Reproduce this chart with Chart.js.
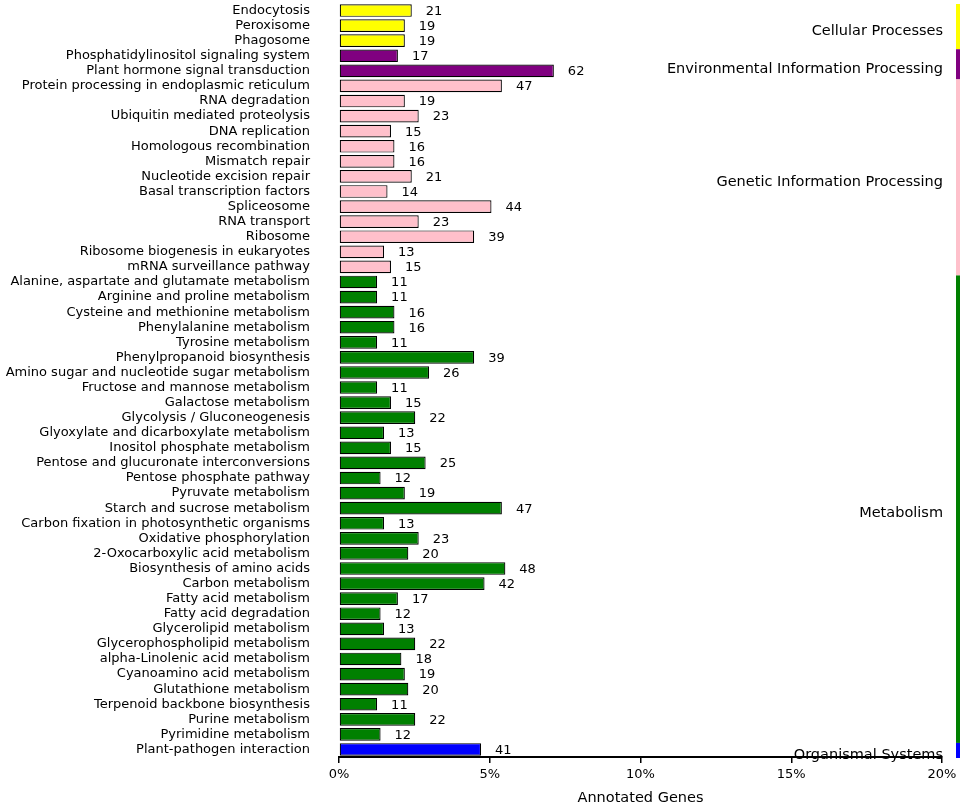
<!DOCTYPE html>
<html>
<head>
<meta charset="utf-8">
<script src="https://cdn.jsdelivr.net/npm/chart.js@4/dist/chart.umd.min.js"></script>
<style>
    html, body { margin: 0; padding: 0; background: #fff; }
    #wrap { width: 964px; height: 807px; position: relative; }
</style>
</head>
<body>
<div id="wrap"><canvas id="keggChart"></canvas></div>
<script>
// KEGG pathway categories, top to bottom
const categories = [
    'Endocytosis', 'Peroxisome', 'Phagosome',
    'Phosphatidylinositol signaling system', 'Plant hormone signal transduction',
    'Protein processing in endoplasmic reticulum', 'RNA degradation', 'Ubiquitin mediated proteolysis',
    'DNA replication', 'Homologous recombination', 'Mismatch repair', 'Nucleotide excision repair',
    'Basal transcription factors', 'Spliceosome', 'RNA transport', 'Ribosome',
    'Ribosome biogenesis in eukaryotes', 'mRNA surveillance pathway',
    'Alanine, aspartate and glutamate metabolism', 'Arginine and proline metabolism',
    'Cysteine and methionine metabolism', 'Phenylalanine metabolism', 'Tyrosine metabolism',
    'Phenylpropanoid biosynthesis', 'Amino sugar and nucleotide sugar metabolism',
    'Fructose and mannose metabolism', 'Galactose metabolism', 'Glycolysis / Gluconeogenesis',
    'Glyoxylate and dicarboxylate metabolism', 'Inositol phosphate metabolism',
    'Pentose and glucuronate interconversions', 'Pentose phosphate pathway', 'Pyruvate metabolism',
    'Starch and sucrose metabolism', 'Carbon fixation in photosynthetic organisms',
    'Oxidative phosphorylation', '2-Oxocarboxylic acid metabolism', 'Biosynthesis of amino acids',
    'Carbon metabolism', 'Fatty acid metabolism', 'Fatty acid degradation', 'Glycerolipid metabolism',
    'Glycerophospholipid metabolism', 'alpha-Linolenic acid metabolism', 'Cyanoamino acid metabolism',
    'Glutathione metabolism', 'Terpenoid backbone biosynthesis', 'Purine metabolism',
    'Pyrimidine metabolism', 'Plant-pathogen interaction'
];

// number of annotated genes per pathway (printed next to each bar)
const geneCounts = [
    21, 19, 19,
    17, 62,
    47, 19, 23, 15, 16, 16, 21, 14, 44, 23, 39, 13, 15,
    11, 11, 16, 16, 11, 39, 26, 11, 15, 22, 13, 15, 25, 12, 19, 47, 13, 23, 20, 48,
    42, 17, 12, 13, 22, 18, 19, 20, 11, 22, 12,
    41
];

// total annotated genes, used to turn counts into percentages
const totalGenes = 870;

const groupNames = [
    'Cellular Processes', 'Environmental Information Processing',
    'Genetic Information Processing', 'Metabolism', 'Organismal Systems'
];
const groupSizes = [3, 2, 13, 31, 1];
const groupColors = ['#ffff00', '#800080', '#ffc0cb', '#008000', '#0000ff'];

const xTicks = [0, 5, 10, 15, 20];

const FONT = 'DejaVu Sans';

// colour of each bar from its group
const barColors = [];
groupSizes.forEach((n, g) => {
    for (let i = 0; i < n; i++) barColors.push(groupColors[g]);
});

const percentages = geneCounts.map(c => c / totalGenes * 100);

// count labels to the right of each bar
const valueLabels = {
    id: 'valueLabels',
    afterDatasetsDraw(chart) {
        const ctx = chart.ctx;
        const meta = chart.getDatasetMeta(0);
        ctx.save();
        ctx.font = '13px "' + FONT + '"';
        ctx.fillStyle = '#000';
        ctx.textAlign = 'left';
        ctx.textBaseline = 'middle';
        meta.data.forEach((bar, i) => {
            ctx.fillText(String(geneCounts[i]), bar.x + 14, bar.y + 1);
        });
        ctx.restore();
    }
};

// group names and coloured strip on the right
const groupLabels = {
    id: 'groupLabels',
    afterDraw(chart) {
        const ctx = chart.ctx;
        const y = chart.scales.y;
        const half = (y.getPixelForValue(1) - y.getPixelForValue(0)) / 2;
        let start = 0;
        ctx.save();
        groupSizes.forEach((n, g) => {
            const top = y.getPixelForValue(start) - half;
            const bottom = y.getPixelForValue(start + n - 1) + half;
            ctx.fillStyle = groupColors[g];
            ctx.fillRect(956, top + 1, 4, bottom - top);
            ctx.font = '14.5px "' + FONT + '"';
            ctx.fillStyle = '#000';
            ctx.textAlign = 'right';
            ctx.textBaseline = 'middle';
            ctx.fillText(groupNames[g], 943, (top + bottom) / 2 + 5.5);
            start += n;
        });
        ctx.restore();
    }
};

const ctx = document.getElementById('keggChart').getContext('2d');
new Chart(ctx, {
    type: 'bar',
    data: {
        labels: categories,
        datasets: [{
            data: percentages,
            backgroundColor: barColors,
            borderColor: '#000',
            borderWidth: 1.2,
            borderSkipped: false,
            barPercentage: 0.84,
            categoryPercentage: 1
        }]
    },
    options: {
        indexAxis: 'y',
        responsive: true,
        maintainAspectRatio: false,
        animation: false,
        layout: { padding: { top: 3, right: 22, bottom: 0, left: 0 } },
        plugins: {
            legend: { display: false },
            tooltip: { enabled: false }
        },
        scales: {
            x: {
                min: 0,
                max: 20,
                afterBuildTicks(scale) {
                    scale.ticks = xTicks.map(v => ({ value: v }));
                },
                afterFit(scale) { scale.height = 50; },
                ticks: {
                    callback: v => v + '%',
                    color: '#000',
                    font: { family: FONT, size: 13 },
                    padding: 4,
                    maxRotation: 0
                },
                grid: {
                    drawOnChartArea: false,
                    tickLength: 6,
                    color: '#000',
                    lineWidth: 1.5
                },
                border: { color: '#000', width: 2 },
                title: {
                    display: true,
                    text: 'Annotated Genes',
                    color: '#000',
                    font: { family: FONT, size: 14.5 },
                    padding: { top: 0, bottom: 0 }
                }
            },
            y: {
                afterFit(scale) {
                    // keep the label gap from pushing the plot down
                    scale.width = 339;
                    scale.paddingTop = 0;
                    scale.paddingBottom = 0;
                },
                ticks: {
                    color: '#000',
                    font: { family: FONT, size: 13 },
                    padding: 29,
                    autoSkip: false
                },
                grid: { display: false, drawTicks: false },
                border: { display: false }
            }
        }
    },
    plugins: [valueLabels, groupLabels]
});
</script>
</body>
</html>
